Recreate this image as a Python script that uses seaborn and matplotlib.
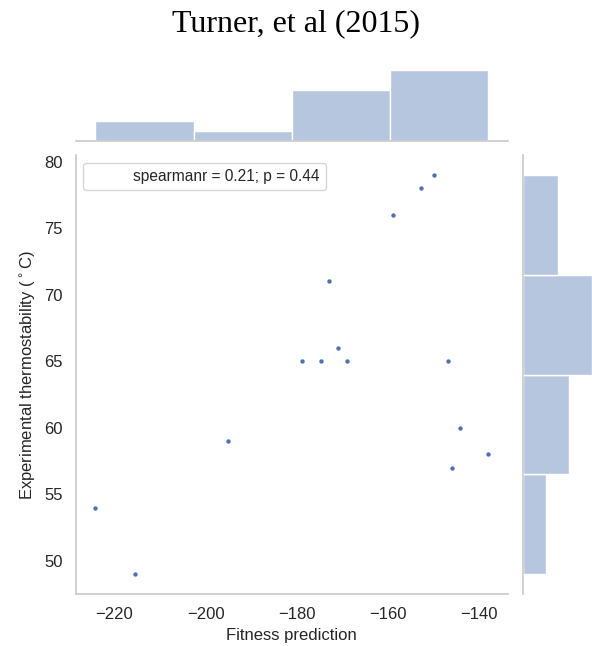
import numpy as np
import pandas as pd
import matplotlib
matplotlib.use("Agg")
import matplotlib.pyplot as plt
import seaborn as sns
from matplotlib.lines import Line2D

fitness = [-224.2, -215.5, -195.0, -178.9, -174.6, -173.0, -171.0, -169.1,
           -159.0, -152.8, -149.9, -146.9, -144.2, -145.9, -138.0]
thermo = [54, 49, 59, 65, 65, 71, 66, 65, 76, 78, 79, 65, 60, 57, 58]
title = "Turner, et al (2015)"
annotation = "spearmanr = 0.21; p = 0.44"

sns.set_theme(style="white", rc={"axes.edgecolor": ".8", "axes.linewidth": 1.25})
plt.rcParams["font.family"] = ["Liberation Sans", "DejaVu Sans"]

df = pd.DataFrame({"Fitness prediction": fitness,
                   "thermo": thermo})

g = sns.JointGrid(data=df, x="Fitness prediction", y="thermo", height=6)
g.plot_joint(sns.scatterplot, s=10, linewidth=0, color="#4C72B0")
g.plot_marginals(sns.histplot, bins=4, color="#4C72B0", alpha=0.4,
                 edgecolor="white", linewidth=1)

fig = g.figure
fig.set_size_inches(5.92, 6.46)
W, H = 592, 646

def pos(l, t, r, b):
    return [l / W, 1 - b / H, (r - l) / W, (b - t) / H]

g.ax_joint.set_position(pos(75.7, 155, 508, 594))
g.ax_marg_x.set_position(pos(75.7, 66.5, 508, 141))
g.ax_marg_y.set_position(pos(523, 155, 595.5, 594))

ax = g.ax_joint
ax.set_xlabel("Fitness prediction", fontsize=12)
ax.set_ylabel("Experimental thermostability ($^\\circ$C)", fontsize=12)
ax.tick_params(labelsize=12, colors=".15")
ax.set_xticks([-220, -200, -180, -160, -140])
ax.set_yticks([50, 55, 60, 65, 70, 75, 80])

h = Line2D([], [], linestyle="none")
ax.legend([h], [annotation], loc="upper left", fontsize=11.2)

fig.text(0.5, 1 - 24 / H, title, ha="center", va="center", color="black",
         fontsize=23, family=["Liberation Serif", "DejaVu Serif"])

fig.savefig("out.png", dpi=100)
